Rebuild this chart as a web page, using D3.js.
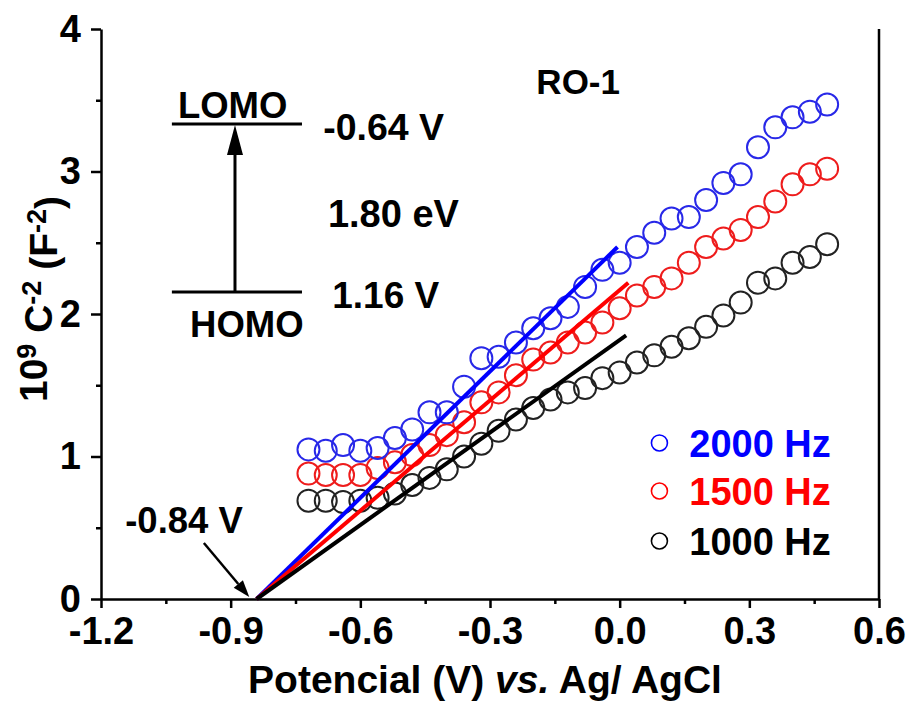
<!DOCTYPE html>
<html><head><meta charset="utf-8">
<script src="https://cdn.jsdelivr.net/npm/d3@7"></script>
<style>
body{margin:0;background:#fff;}
text{font-family:"Liberation Sans",Arial,sans-serif;font-weight:bold;}
</style></head>
<body><svg id="c" width="911" height="706"></svg>
<script>
// ---- data ----
const potential = [-0.72,-0.68,-0.64,-0.60,-0.56,-0.52,-0.48,-0.44,-0.40,-0.36,-0.32,-0.28,-0.24,-0.20,-0.16,-0.12,-0.08,-0.04,0.00,0.04,0.08,0.12,0.16,0.20,0.24,0.28,0.32,0.36,0.40,0.44,0.48];
const c2000 = [1.05,1.04,1.08,1.04,1.06,1.13,1.19,1.31,1.31,1.49,1.69,1.70,1.80,1.90,1.97,2.05,2.19,2.31,2.36,2.47,2.57,2.67,2.68,2.80,2.92,2.98,3.17,3.31,3.38,3.42,3.47];
const c1500 = [0.88,0.87,0.87,0.87,0.92,0.96,1.01,1.08,1.15,1.24,1.38,1.45,1.57,1.68,1.73,1.80,1.87,1.94,2.04,2.13,2.19,2.25,2.36,2.47,2.53,2.59,2.68,2.79,2.91,2.98,3.02];
const c1000 = [0.69,0.69,0.68,0.69,0.71,0.74,0.80,0.85,0.91,1.00,1.09,1.18,1.26,1.34,1.40,1.45,1.48,1.55,1.59,1.66,1.71,1.77,1.83,1.91,1.99,2.08,2.22,2.25,2.36,2.40,2.49];
const seriesNames = ["2000 Hz","1500 Hz","1000 Hz"];
const seriesColors = ["#0000ff","#ff0000","#000000"];
const fitStart = [-0.84, 0];
const fitEnds = [[-0.005,2.47],[0.02,2.22],[0.015,1.85]];
const xTicks = [-1.2,-0.9,-0.6,-0.3,0.0,0.3,0.6];
const xTickLabels = ["-1.2","-0.9","-0.6","-0.3","0.0","0.3","0.6"];
const xMinor = [-1.05,-0.75,-0.45,-0.15,0.15,0.45];
const yTicks = [0,1,2,3,4];
const yMinor = [0.5,1.5,2.5,3.5];

// ---- layout ----
const svg = d3.select("#c");
const L=101, R=879, T=29, B=599;
const x = d3.scaleLinear().domain([-1.2,0.6]).range([L,R]);
const y = d3.scaleLinear().domain([0,4]).range([B,T]);
const AX = 2.5;

// axes
const gx = svg.append("g").attr("transform",`translate(0,${B})`)
  .call(d3.axisBottom(x).tickValues(xTicks).tickSize(9).tickSizeOuter(0).tickPadding(9)
        .tickFormat((d,i)=>xTickLabels[i]));
gx.append("g").call(d3.axisBottom(x).tickValues(xMinor).tickSize(5).tickFormat("")).select(".domain").remove();
const gy = svg.append("g").attr("transform",`translate(${L},0)`)
  .call(d3.axisLeft(y).tickValues(yTicks).tickSize(10).tickSizeOuter(0).tickPadding(10).tickFormat(d3.format("d")));
gy.append("g").call(d3.axisLeft(y).tickValues(yMinor).tickSize(5).tickFormat("")).select(".domain").remove();
svg.selectAll(".domain").attr("stroke","#000").attr("stroke-width",AX);
svg.selectAll(".tick line").attr("stroke","#000").attr("stroke-width",AX);
svg.selectAll(".tick text").attr("fill","#000").style("font-size","38px").style("font-family","Liberation Sans, Arial, sans-serif").style("font-weight","bold");
// right frame line
svg.append("line").attr("x1",R).attr("x2",R).attr("y1",T).attr("y2",B+1).attr("stroke","#000").attr("stroke-width",AX);

// data circles
const sets = [c1000,c1500,c2000];
const cols = ["#222222","#ee1c1c","#2828e8"];
sets.forEach((s,k)=>{
  svg.append("g").selectAll("circle").data(potential.map((p,i)=>[p,s[i]])).join("circle")
    .attr("cx",d=>x(d[0])).attr("cy",d=>y(d[1])).attr("r",11)
    .attr("fill","none").attr("stroke",cols[k]).attr("stroke-width",2);
});
// fit lines
fitEnds.forEach((e,k)=>{
  svg.append("line").attr("x1",x(fitStart[0])).attr("y1",y(fitStart[1]))
    .attr("x2",x(e[0])).attr("y2",y(e[1])).attr("stroke",seriesColors[k]).attr("stroke-width",4);
});

// legend
const legY = [1.095,0.758,0.407];
seriesNames.forEach((n,k)=>{
  svg.append("circle").attr("cx",x(0.092)).attr("cy",y(legY[k])).attr("r",8)
    .attr("fill","none").attr("stroke",seriesColors[k]).attr("stroke-width",1.6);
  svg.append("text").attr("x",x(0.161)).attr("y",y(legY[k])).attr("dy","0.36em")
    .attr("fill",seriesColors[k]).style("font-size","38px").text(n);
});

// annotations
function txt(xv,yv,s,size,anchor){
  return svg.append("text").attr("x",x(xv)).attr("y",y(yv)).attr("text-anchor",anchor||"start")
    .style("font-size",size+"px").attr("fill","#000").text(s);
}
txt(-0.096,3.544,"RO-1",35,"middle");
// energy diagram
const lomoY=3.333, homoY=2.154, lvlX0=-1.036, lvlX1=-0.735, arrX=-0.89;
svg.append("line").attr("x1",x(lvlX0)).attr("x2",x(lvlX1)).attr("y1",y(lomoY)).attr("y2",y(lomoY)).attr("stroke","#000").attr("stroke-width",3);
svg.append("line").attr("x1",x(lvlX0)).attr("x2",x(lvlX1)).attr("y1",y(homoY)).attr("y2",y(homoY)).attr("stroke","#000").attr("stroke-width",3);
svg.append("line").attr("x1",x(arrX)).attr("x2",x(arrX)).attr("y1",y(homoY)).attr("y2",y(lomoY)+28).attr("stroke","#000").attr("stroke-width",3);
svg.append("path").attr("d",`M${x(arrX)},${y(lomoY)+1} L${x(arrX)-8},${y(lomoY)+31} L${x(arrX)+8},${y(lomoY)+31} Z`).attr("fill","#000");
txt(-1.022,3.375,"LOMO",36.5);
txt(-0.994,1.84,"HOMO",36.5);
txt(-0.686,3.22,"-0.64 V",37.5);
txt(-0.675,2.61,"1.80 eV",38);
txt(-0.665,2.04,"1.16 V",37);
txt(-1.144,0.463,"-0.84 V",36.5);
// arrow to intercept
const a0=[-0.962,0.393], a1=[-0.857,0.014];
const ax0=x(a0[0]), ay0=y(a0[1]), ax1=x(a1[0]), ay1=y(a1[1]);
const ang=Math.atan2(ay1-ay0,ax1-ax0), hl=17, hw=6;
const bx=ax1-hl*Math.cos(ang), by=ay1-hl*Math.sin(ang);
svg.append("line").attr("x1",ax0).attr("y1",ay0).attr("x2",bx).attr("y2",by).attr("stroke","#000").attr("stroke-width",2.5);
svg.append("path").attr("d",`M${ax1},${ay1} L${bx+hw*Math.sin(ang)},${by-hw*Math.cos(ang)} L${bx-hw*Math.sin(ang)},${by+hw*Math.cos(ang)} Z`).attr("fill","#000");

// axis titles
const xt = svg.append("text").attr("x",485).attr("y",693).attr("text-anchor","middle").style("font-size","39px").attr("fill","#000");
xt.append("tspan").text("Potencial (V) ");
xt.append("tspan").style("font-style","italic").text("vs.");
xt.append("tspan").text(" Ag/ AgCl");
const yt = svg.append("text").attr("transform","translate(47,299) rotate(-90)").attr("text-anchor","middle").style("font-size","39px").attr("fill","#000");
yt.append("tspan").text("10");
yt.append("tspan").attr("dy","-0.42em").style("font-size","27px").text("9");
yt.append("tspan").attr("dy","0.42em").text(" C");
yt.append("tspan").attr("dy","-0.42em").style("font-size","27px").text("-2");
yt.append("tspan").attr("dy","0.42em").text(" (F");
yt.append("tspan").attr("dy","-0.42em").style("font-size","27px").text("-2");
yt.append("tspan").attr("dy","0.42em").text(")");
</script></body></html>
